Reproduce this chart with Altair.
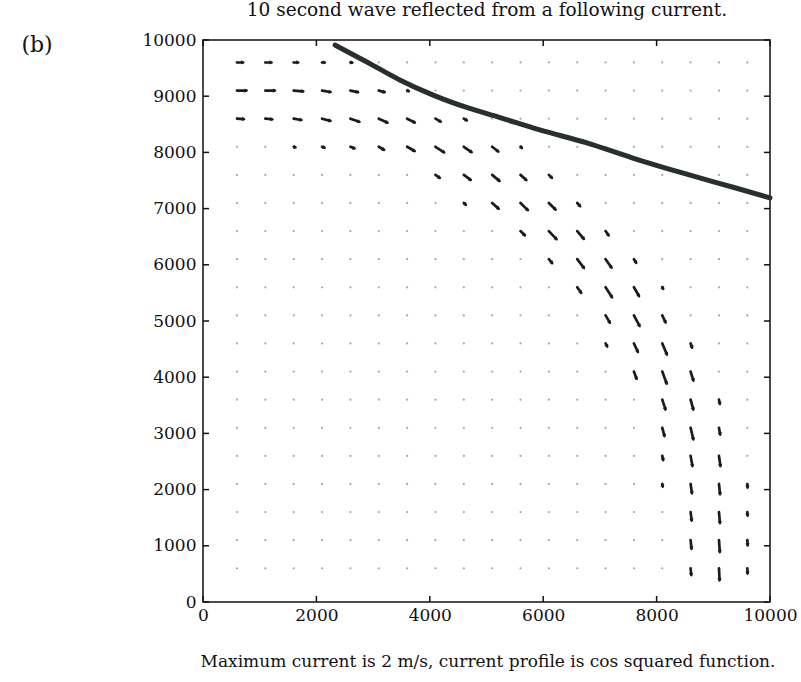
import math

import altair as alt
import pandas as pd

# ---------------------------------------------------------------- data
X_TICKS = [0, 2000, 4000, 6000, 8000, 10000]
Y_TICKS = [0, 1000, 2000, 3000, 4000, 5000, 6000, 7000, 8000, 9000, 10000]

# quiver grid (metres)
GRID_X = [600 + 500 * i for i in range(19)]
GRID_Y = [600 + 500 * j for j in range(19)]

# reflection line (caustic) of the wave rays
CURVE_X = [2330, 2890, 3470, 4060, 4650, 5240, 5940, 6770, 7580, 8470, 9350, 10000]
CURVE_Y = [9910, 9610, 9290, 9020, 8800, 8620, 8400, 8170, 7900, 7630, 7380, 7190]

# non-zero wave-action vectors: base position, magnitude, direction (deg from +x)
ARROW_X = [
    600, 1100, 1600, 2100, 2600,                                   # y = 9600
    600, 1100, 1600, 2100, 2600, 3100, 3600,                       # y = 9100
    600, 1100, 1600, 2100, 2600, 3100, 3600, 4100, 4600,           # y = 8600
    1600, 2100, 2600, 3100, 3600, 4100, 4600, 5100, 5600,          # y = 8100
    4100, 4600, 5100, 5600, 6100,                                  # y = 7600
    4600, 5100, 5600, 6100, 6600,                                  # y = 7100
    5600, 6100, 6600, 7100,                                        # y = 6600
    6100, 6600, 7100, 7600,                                        # y = 6100
    6600, 7100, 7600, 8100,                                        # y = 5600
    7100, 7600, 8100,                                              # y = 5100
    7100, 7600, 8100, 8600,                                        # y = 4600
    7600, 8100, 8600,                                              # y = 4100
    8100, 8600, 9100,                                              # y = 3600
    8100, 8600, 9100,                                              # y = 3100
    8100, 8600, 9100,                                              # y = 2600
    8100, 8600, 9100, 9600,                                        # y = 2100
    8600, 9100, 9600,                                              # y = 1600
    8600, 9100, 9600,                                              # y = 1100
    8600, 9100, 9600,                                              # y = 600
]
ARROW_Y = (
    [9600] * 5 + [9100] * 7 + [8600] * 9 + [8100] * 9 + [7600] * 5
    + [7100] * 5 + [6600] * 4 + [6100] * 4 + [5600] * 4 + [5100] * 3
    + [4600] * 4 + [4100] * 3 + [3600] * 3 + [3100] * 3 + [2600] * 3
    + [2100] * 4 + [1600] * 3 + [1100] * 3 + [600] * 3
)
ARROW_MAG = [
    7, 7, 5, 3, 2,
    11, 11, 11, 10, 9, 7, 2,
    8, 8, 9, 10, 11, 11, 10, 7, 4,
    2, 3, 5, 7, 10, 12, 11, 9, 2,
    6, 10, 11, 9, 5,
    3, 10, 12, 11, 5,
    7, 13, 12, 6,
    6, 13, 12, 5,
    8, 14, 12, 2,
    10, 14, 9,
    4, 11, 14, 5,
    9, 15, 11,
    12, 12, 5,
    10, 14, 8,
    5, 12, 12,
    3, 11, 12, 4,
    10, 13, 4,
    10, 14, 6,
    8, 14, 6,
]
ARROW_DIR = [
    0, 0, 0, 0, -5,
    0, 0, -5, -10, -12, -15, -20,
    -3, -5, -10, -15, -20, -25, -27, -30, -30,
    -20, -20, -22, -30, -30, -33, -35, -38, -40,
    -35, -37, -40, -42, -45,
    -40, -42, -45, -45, -48,
    -45, -47, -50, -55,
    -50, -53, -55, -58,
    -55, -57, -60, -60,
    -60, -62, -65,
    -62, -65, -67, -70,
    -70, -70, -73,
    -72, -75, -78,
    -75, -77, -80,
    -78, -80, -82,
    -80, -82, -84, -85,
    -83, -85, -85,
    -84, -86, -86,
    -85, -87, -87,
]
QUIVER_SCALE = 15.0  # metres of plot per magnitude unit

TITLE = "10 second wave reflected from a following current."
CAPTION = "Maximum current is 2 m/s, current profile is cos squared function."
PANEL = "(b)"

# ---------------------------------------------------------------- tables
dots = pd.DataFrame([(gx, gy) for gx in GRID_X for gy in GRID_Y], columns=["x", "y"])

arrows = pd.DataFrame({"x": ARROW_X, "y": ARROW_Y, "mag": ARROW_MAG, "dir": ARROW_DIR})
rad = arrows["dir"] * math.pi / 180.0
arrows["x2"] = arrows["x"] + arrows["mag"] * QUIVER_SCALE * rad.apply(math.cos)
arrows["y2"] = arrows["y"] + arrows["mag"] * QUIVER_SCALE * rad.apply(math.sin)
arrows["rot"] = (-arrows["dir"]) % 360

curve = pd.DataFrame({"x": CURVE_X, "y": CURVE_Y, "order": range(len(CURVE_X))})
xt = pd.DataFrame({"v": X_TICKS})
yt = pd.DataFrame({"v": Y_TICKS})

W, H = 567, 562
FONT = "DejaVu Serif"
INK = "#1c1c1c"

xscale = alt.Scale(domain=[0, 10000], nice=False, zero=False)
yscale = alt.Scale(domain=[0, 10000], nice=False, zero=False)

x_axis = alt.Axis(values=X_TICKS, title=None, grid=False, ticks=False, domain=False,
                  labelFont=FONT, labelFontSize=17, labelColor="#111",
                  labelPadding=5, labelFlush=False, labelOverlap=False, format="d")
y_axis = alt.Axis(values=Y_TICKS, title=None, grid=False, ticks=False, domain=False,
                  labelFont=FONT, labelFontSize=17, labelColor="#111",
                  labelPadding=7, labelFlush=False, labelOverlap=False, format="d")

base_dots = alt.Chart(dots).mark_point(filled=True, size=5, color="#a8a8a8", opacity=1).encode(
    x=alt.X("x:Q", scale=xscale, axis=x_axis),
    y=alt.Y("y:Q", scale=yscale, axis=y_axis),
)

shafts = alt.Chart(arrows).mark_rule(strokeWidth=2.7, color=INK, strokeCap="round").encode(
    x=alt.X("x:Q", scale=xscale), y=alt.Y("y:Q", scale=yscale), x2="x2:Q", y2="y2:Q"
)

heads = alt.Chart(arrows).mark_point(shape="triangle-right", filled=True, size=18,
                                     color=INK, opacity=1).encode(
    x=alt.X("x2:Q", scale=xscale), y=alt.Y("y2:Q", scale=yscale),
    angle=alt.Angle("rot:Q", scale=None),
)

line = alt.Chart(curve).mark_line(strokeWidth=5, color="#27302a", strokeCap="round",
                                  interpolate="monotone").encode(
    x=alt.X("x:Q", scale=xscale), y=alt.Y("y:Q", scale=yscale), order="order:Q"
)

# inward ticks on all four sides
tick_style = dict(color="#111", strokeWidth=1.5)
left_ticks = alt.Chart(yt).mark_rule(**tick_style).encode(
    y=alt.Y("v:Q", scale=yscale), x=alt.value(0), x2=alt.value(6))
right_ticks = alt.Chart(yt).mark_rule(**tick_style).encode(
    y=alt.Y("v:Q", scale=yscale), x=alt.value(W - 6), x2=alt.value(W))
bottom_ticks = alt.Chart(xt).mark_rule(**tick_style).encode(
    x=alt.X("v:Q", scale=xscale), y=alt.value(H - 6), y2=alt.value(H))
top_ticks = alt.Chart(xt).mark_rule(**tick_style).encode(
    x=alt.X("v:Q", scale=xscale), y=alt.value(0), y2=alt.value(6))

title = alt.Chart(pd.DataFrame({"t": [TITLE]})).mark_text(
    font=FONT, fontSize=18.5, color="#111", align="center", baseline="alphabetic"
).encode(text="t:N", x=alt.value(284), y=alt.value(-24))

caption = alt.Chart(pd.DataFrame({"t": [CAPTION]})).mark_text(
    font=FONT, fontSize=17, color="#111", align="center", baseline="alphabetic"
).encode(text="t:N", x=alt.value(285), y=alt.value(627))

panel = alt.Chart(pd.DataFrame({"t": [PANEL]})).mark_text(
    font=FONT, fontSize=22, color="#111", align="center", baseline="alphabetic"
).encode(text="t:N", x=alt.value(-166), y=alt.value(12))

chart = alt.layer(
    base_dots, shafts, heads, line,
    left_ticks, right_ticks, bottom_ticks, top_ticks,
    title, caption, panel,
).properties(
    width=W, height=H,
    autosize=alt.AutoSizeParams(type="none"),
    padding={"left": 203, "top": 40, "right": 31, "bottom": 80},
    background="white",
).configure_view(stroke="#111", strokeWidth=1.5)

chart.save("out.html", embed_options={"renderer": "svg", "actions": False})
